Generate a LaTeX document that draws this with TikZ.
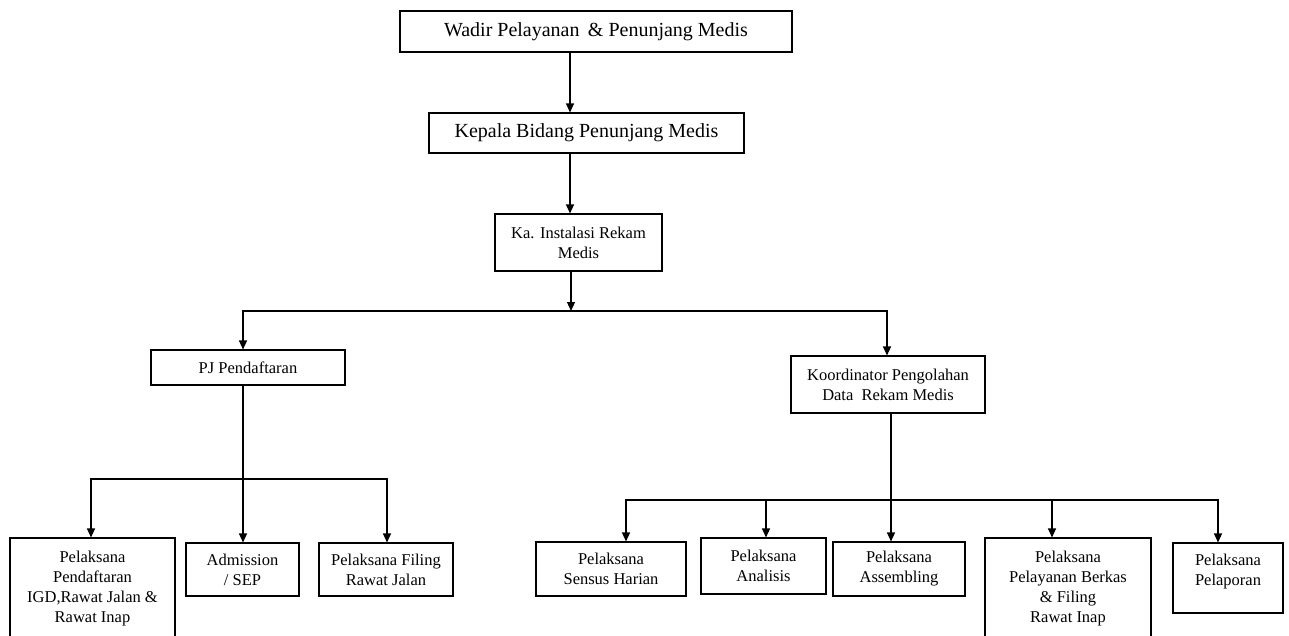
\documentclass[tikz,border=0pt]{standalone}
\usepackage{fontspec}
\setmainfont{Liberation Serif}
\usetikzlibrary{arrows.meta}

\begin{document}
\begin{tikzpicture}[
    x=1pt, y=-1pt,
    kotak/.style={draw, line width=1.1pt, align=center, inner sep=0pt,
      font=\fontsize{16.5}{20}\selectfont},
    kotakbesar/.style={kotak, font=\fontsize{20}{24}\selectfont},
    panah/.style={line width=1.1pt, -{Triangle[length=9pt, width=8pt]}},
    garis/.style={line width=1.1pt},
    ]
    \useasboundingbox (0,0) rectangle (1289,635);
    \clip (0,0) rectangle (1289,635);

    \node[kotakbesar, minimum width=392, minimum height=41] (wadir) at (596,31.5)
    {Wadir Pelayanan \,\& Penunjang Medis};
    \node[kotakbesar, minimum width=315, minimum height=40] (kabid) at (586.5,133)
    {Kepala Bidang Penunjang Medis};
    \node[kotak, minimum width=167, minimum height=57] (kainst) at (578.5,242.5)
    {Ka. Instalasi Rekam\\Medis};
    \node[kotak, minimum width=194, minimum height=35] (pj) at (248,367.5)
    {PJ Pendaftaran};
    \node[kotak, minimum width=194, minimum height=57] (koord) at (888,384.5)
    {Koordinator Pengolahan\\Data~~Rekam Medis};

    \node[kotak, minimum width=165, minimum height=102] (igd) at (92.5,589)
    {Pelaksana\\Pendaftaran\\IGD,Rawat Jalan \&\\Rawat Inap};
    \node[kotak, minimum width=113, minimum height=53] (adm) at (242.5,569.5)
    {Admission\\/ SEP};
    \node[kotak, minimum width=134, minimum height=53] (filing) at (386,569.5)
    {Pelaksana Filing\\Rawat Jalan};

    \node[kotak, minimum width=150, minimum height=54] (sensus) at (611,569)
    {Pelaksana\\Sensus Harian};
    \node[kotak, minimum width=125, minimum height=56] (analisis) at (763.5,566)
    {Pelaksana\\Analisis};
    \node[kotak, minimum width=132, minimum height=54] (assembling) at (899,569)
    {Pelaksana\\Assembling};
    \node[kotak, minimum width=166, minimum height=102] (berkas) at (1068,589)
    {Pelaksana\\Pelayanan Berkas\\\& Filing\\Rawat Inap};
    \node[kotak, minimum width=110, minimum height=70] (pelaporan) at (1228,578)
    {Pelaksana\\Pelaporan\\[-4pt]};

    % jalur atas
    \coordinate (xAtas) at (570,0);
    \draw[panah] (wadir.south -| xAtas) -- (kabid.north -| xAtas);
    \draw[panah] (kabid.south -| xAtas) -- (kainst.north -| xAtas);

    \coordinate (cabang1) at (571,311);
    \coordinate (xPJ) at (243,0);
    \coordinate (xKoord) at (887,0);
    \draw[panah] (kainst.south -| cabang1) -- (cabang1);
    \draw[panah] (cabang1) -| (pj.north -| xPJ);
    \draw[panah] (cabang1) -| (koord.north -| xKoord);

    % cabang kiri
    \coordinate (cabang2) at (243,479);
    \coordinate (xIgd) at (91,0);
    \coordinate (xFiling) at (387,0);
    \draw[panah] (pj.south -| cabang2) -- (adm.north -| cabang2);
    \draw[panah] (cabang2) -| (igd.north -| xIgd);
    \draw[panah] (cabang2) -| (filing.north -| xFiling);

    % cabang kanan
    \coordinate (cabang3) at (891,500);
    \coordinate (xSensus) at (626,0);
    \coordinate (xAnalisis) at (766,0);
    \coordinate (xBerkas) at (1052,0);
    \coordinate (xLapor) at (1218,0);
    \draw[panah] (koord.south -| cabang3) -- (assembling.north -| cabang3);
    \draw[panah] (cabang3) -| (sensus.north -| xSensus);
    \draw[panah] (cabang3) -| (analisis.north -| xAnalisis);
    \draw[panah] (cabang3) -| (berkas.north -| xBerkas);
    \draw[panah] (cabang3) -| (pelaporan.north -| xLapor);
  \end{tikzpicture}
\end{document}
